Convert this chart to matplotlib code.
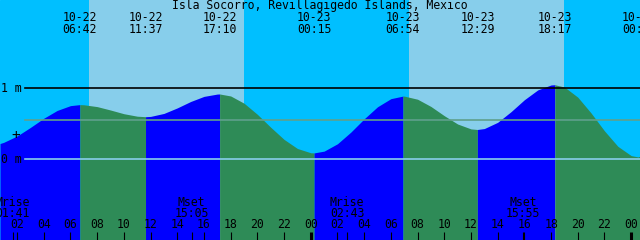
import numpy as np
import matplotlib.pyplot as plt

# hours counted from 10-22 00:00
tide_hours = [0.72, 1, 2, 3, 4, 5, 6, 6.70, 7, 8, 9, 10, 11, 11.62,
              12, 13, 14, 15, 16, 17, 17.17, 18, 19, 20, 21, 22, 23, 24, 24.25,
              25, 26, 27, 28, 29, 30, 30.90, 31, 32, 33, 34, 35, 36, 36.48,
              37, 38, 39, 40, 41, 42, 42.28, 43, 44, 45, 46, 47, 48, 48.60, 48.66]
tide_m = [0.222, 0.239, 0.328, 0.449, 0.578, 0.688, 0.756, 0.77, 0.768, 0.742, 0.694,
          0.642, 0.607, 0.60,
          0.604, 0.646, 0.724, 0.814, 0.886, 0.919, 0.92, 0.892, 0.790, 0.633, 0.451,
          0.280, 0.152, 0.092, 0.09,
          0.115, 0.219, 0.383, 0.570, 0.740, 0.854, 0.89, 0.890, 0.846, 0.744, 0.614,
          0.497, 0.428, 0.42,
          0.433, 0.521, 0.671, 0.839, 0.977, 1.047, 1.05, 1.018, 0.875, 0.651, 0.400,
          0.183, 0.052, 0.03, 0.03]

event_hours = [6.70, 11.62, 17.17, 24.25, 30.90, 36.48, 42.28, 48.60]
event_dates = ["10-22", "10-22", "10-22", "10-23", "10-23", "10-23", "10-23", "10-24"]
event_times = ["06:42", "11:37", "17:10", "00:15", "06:54", "12:29", "18:17", "00:36"]

sunrise = [7.38, 31.37]
sunset = [19.00, 42.97]

moon_hours = [1.68, 15.08, 26.72, 39.92]
moon_names = ["Mrise", "Mset", "Mrise", "Mset"]
moon_times = ["01:41", "15:05", "02:43", "15:55"]

hour_ticks = list(range(2, 49, 2))
hour_labels = ["%02d" % (h % 24) for h in hour_ticks]

mean_level = 0.55
title = "Isla Socorro, Revillagigedo Islands, Mexico"

plt.rcParams['font.family'] = ['DejaVu Sans Mono']
FS = 8.3

fig = plt.figure(figsize=(6.4, 2.4), dpi=100)
ax = fig.add_axes([0, 0, 1, 1])
ax.set_axis_off()
x0 = 0.72
ax.set_xlim(x0, x0 + 640 / 13.35)
ax.set_ylim((159.3 - 240) / 71, 159.3 / 71)
ax.add_patch(plt.Rectangle((0, 0), 1, 1, transform=ax.transAxes, color='#00BFFF', zorder=0))


def ypx(y):
    return 1 - y / 240.0


tx = ax.get_xaxis_transform()

# daylight
for r, s in zip(sunrise, sunset):
    ax.axvspan(r, s, color='#87CEEB', lw=0, zorder=1)

# water, blue when rising, green when falling
t = np.array(tide_hours)
h = np.array(tide_m)
bounds = [t[0]] + event_hours + [t[-1]]
bottom = ax.get_ylim()[0]
for i in range(len(bounds) - 1):
    a, b = bounds[i], bounds[i + 1]
    m = (t >= a) & (t <= b)
    if m.sum() < 2:
        continue
    seg_h = h[m]
    rising = seg_h[-1] > seg_h[0]
    ax.fill_between(t[m], bottom, seg_h, color='#0000FF' if rising else '#2E8B57',
                    lw=0, zorder=2)

# reference lines
ax.axhline(1, xmin=25 / 640, color='black', lw=1.2, zorder=3)
ax.axhline(mean_level, xmin=25 / 640, color='#5FA08C', lw=1.2, zorder=3)
ax.axhline(0, xmin=25 / 640, color='#87CEEB', lw=1.2, zorder=3)
ax.text(22 / 640, 1, "1 m", transform=ax.get_yaxis_transform(), ha='right', va='center',
        fontsize=FS, zorder=4)
ax.text(22 / 640, 0, "0 m", transform=ax.get_yaxis_transform(), ha='right', va='center',
        fontsize=FS, zorder=4)
ax.text(16 / 640, ypx(134.5), "+", transform=ax.transAxes, ha='center', va='center',
        fontsize=FS + 2, zorder=4)

# title and tide event labels
fig.text(0.5, ypx(6), title, ha='center', va='center', fontsize=FS)
for eh, d, tm in zip(event_hours, event_dates, event_times):
    ax.text(eh, ypx(17.5), d, transform=tx, ha='center', va='center', fontsize=FS, zorder=4)
    ax.text(eh, ypx(29.5), tm, transform=tx, ha='center', va='center', fontsize=FS, zorder=4)

# moon labels
for mh, n, tm in zip(moon_hours, moon_names, moon_times):
    ax.text(mh, ypx(202), n, transform=tx, ha='center', va='center', fontsize=FS, zorder=4)
    ax.text(mh, ypx(213.5), tm, transform=tx, ha='center', va='center', fontsize=FS, zorder=4)

# hour ticks
for hh, lab in zip(hour_ticks, hour_labels):
    ax.text(hh, ypx(225), lab, transform=tx, ha='center', va='center', fontsize=FS, zorder=4)
    ax.vlines(hh, 0, 8 / 240, transform=tx, color='black', lw=2.2 if hh % 24 == 0 else 0.8,
              zorder=4)
ax.vlines(moon_hours, 0, 8 / 240, transform=tx, color='black', lw=0.8, zorder=4)

fig.savefig('out.png', dpi=100)
